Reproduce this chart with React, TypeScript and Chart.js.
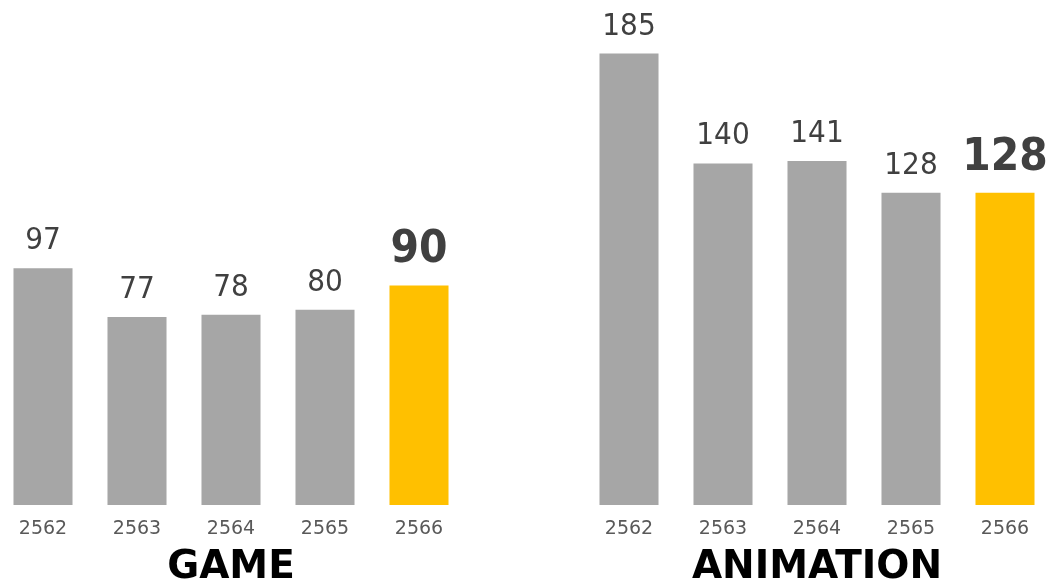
import React, { useEffect, useRef } from "react";
import { Chart, registerables } from "chart.js";

Chart.register(...registerables);

const years = ["2562", "2563", "2564", "2565", "2566"];
const gameValues = [97, 77, 78, 80, 90];
const animationValues = [185, 140, 141, 128, 128];
const panelTitles = ["GAME", "ANIMATION"];

const GRAY = "#A6A6A6";
const GOLD = "#FFC000";
const FONT = "'DejaVu Sans', Verdana, sans-serif";

const valueLabels = {
  id: "valueLabels",
  afterDatasetsDraw(chart: any) {
    const ctx = chart.ctx;
    const meta = chart.getDatasetMeta(0);
    const data = chart.data.datasets[0].data as number[];
    ctx.save();
    ctx.textAlign = "center";
    ctx.textBaseline = "alphabetic";
    ctx.fillStyle = "#404040";
    meta.data.forEach((bar: any, i: number) => {
      const last = i === data.length - 1;
      ctx.save();
      ctx.translate(bar.x, bar.y - (last ? 23 : 19));
      ctx.scale(1, last ? 1.1 : 1.08);
      ctx.font = last ? `bold 41px ${FONT}` : `28px ${FONT}`;
      ctx.fillText(String(data[i]), 0, 0);
      ctx.restore();
    });
    ctx.restore();
  },
};

function Panel({ values, title, left }: { values: number[]; title: string; left: number }) {
  const ref = useRef<HTMLCanvasElement | null>(null);
  useEffect(() => {
    if (!ref.current) return;
    const chart = new Chart(ref.current, {
      type: "bar",
      data: {
        labels: years,
        datasets: [
          {
            data: values,
            backgroundColor: values.map((_, i) => (i === values.length - 1 ? GOLD : GRAY)),
            categoryPercentage: 1,
            barPercentage: 0.628,
            borderWidth: 0,
          },
        ],
      },
      options: {
        animation: false,
        responsive: true,
        maintainAspectRatio: false,
        layout: { padding: { top: 17, left: 0, right: 0, bottom: 0 } },
        plugins: { legend: { display: false }, tooltip: { enabled: false } },
        scales: {
          x: {
            grid: { display: false, drawTicks: false },
            border: { display: false },
            ticks: { color: "#595959", font: { family: FONT, size: 19 }, padding: 13 },
            title: {
              display: true,
              text: title,
              color: "#000000",
              font: { family: FONT, size: 39, weight: "bold" },
              padding: { top: 0, bottom: 9 },
            },
            afterFit(scale: any) {
              scale.height = 95;
            },
          },
          y: {
            display: false,
            min: 0,
            max: 200,
          },
        },
      },
      plugins: [valueLabels],
    });
    return () => chart.destroy();
  }, [values, title]);
  return (
    <div style={{ position: "absolute", left, top: 0, width: 470, height: 600 }}>
      <canvas ref={ref} />
    </div>
  );
}

export default function App() {
  return (
    <div
      style={{
        position: "fixed",
        left: 0,
        top: 0,
        width: 1051,
        height: 582,
        overflow: "hidden",
        background: "#ffffff",
      }}
    >
      <Panel values={gameValues} title={panelTitles[0]} left={-4} />
      <Panel values={animationValues} title={panelTitles[1]} left={582} />
    </div>
  );
}
